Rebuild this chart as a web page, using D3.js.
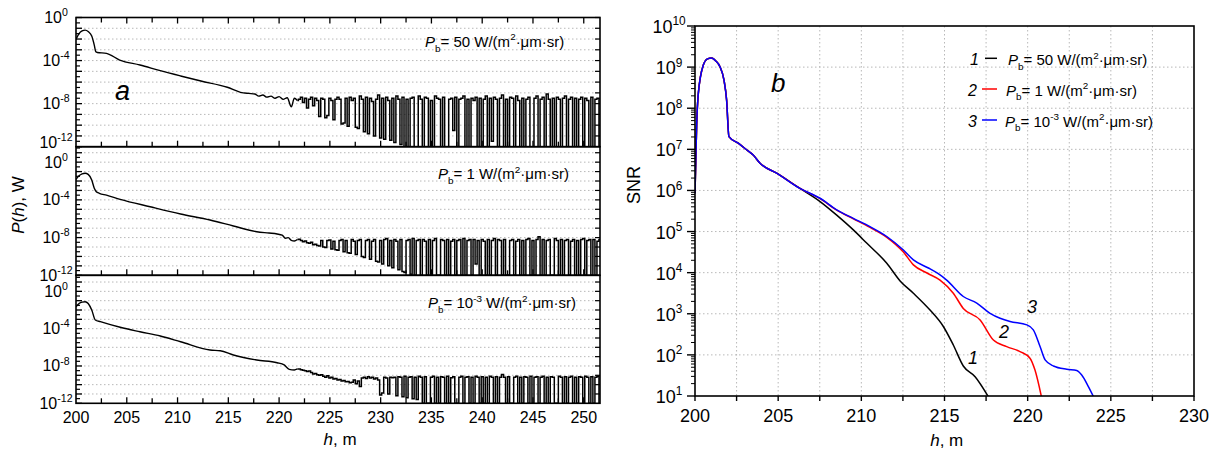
<!DOCTYPE html>
<html><head><meta charset="utf-8">
<script src="https://cdn.jsdelivr.net/npm/d3@7"></script>
<style>
body{margin:0;background:#fff}
svg{display:block}
text{font-family:Arial,"Liberation Sans",sans-serif;fill:#000}
</style>
</head><body>
<svg id="c" width="1219" height="453"></svg>
<script>
// ---------------- DATA ----------------
// Panel a: P(h) curves, log10(P) values
const p1SmoothH   = [200.0,200.3,200.6,200.9,201.2,201.55,201.8,201.95,202.1,203.0,204.3,206.3,208.3,210.3,212.3,214.9,216.2,217.0,217.6,218.0,218.4,218.8,219.2,219.6,220.0,220.4,220.8,221.2,221.5,221.8];
const p1SmoothLog = [-2.03,-1.5,-1.25,-1.17,-1.3,-1.72,-2.56,-3.18,-3.25,-3.33,-3.95,-4.41,-4.94,-5.43,-5.9,-6.48,-6.95,-7.05,-7.1,-7.3,-7.2,-7.4,-7.3,-7.5,-7.35,-7.6,-7.45,-8.3,-7.5,-7.7];
const p2SmoothH   = [200.0,200.3,200.6,200.9,201.2,201.55,201.8,202.0,202.3,203.0,204.35,207.3,210.3,213.2,215.5,217.8,219.0,219.8,220.3,220.65,220.9,221.2,221.5,221.8];
const p2SmoothLog = [-1.82,-1.45,-1.25,-1.18,-1.3,-1.9,-2.77,-3.13,-3.3,-3.5,-3.94,-4.73,-5.5,-6.14,-6.77,-7.38,-7.52,-7.62,-7.75,-8.08,-8.0,-8.3,-8.36,-8.2];
const p3SmoothH   = [200.0,200.3,200.6,200.9,201.2,201.55,201.9,202.4,204.35,206.3,208.3,210.3,213.2,214.2,215.5,217.8,219.8,220.5,221.0,221.5,221.8];
const p3SmoothLog = [-1.65,-1.3,-1.15,-1.11,-1.3,-2.0,-3.07,-3.25,-3.85,-4.33,-4.79,-5.4,-6.29,-6.36,-6.82,-7.36,-7.65,-7.89,-8.36,-8.43,-8.32];
// noisy tail: samples every 0.2 m starting at h = 222.0
const noiseStartH = 222.0, noiseStepH = 0.2;
const p1NoiseLog = [
-7.6,-7.4,-7.9,-7.5,-8.4,-7.6,-7.4,-8.2,-7.5,-7.7,
-9.2,-7.5,-7.6,-9.3,-9.1,-7.5,-7.7,-9.5,-7.6,-7.4,
-7.6,-9.9,-9.8,-7.5,-10.1,-7.4,-7.7,-7.5,-10.2,-10.3,
-7.3,-7.6,-10.6,-7.4,-10.8,-7.5,-7.8,-11.0,-7.6,-7.2,
-11.2,-7.5,-11.3,-7.4,-7.7,-11.4,-7.5,-11.6,-7.3,-7.6,
-11.8,-7.4,-12,-7.6,-12,-7.5,-7.4,-12,-12,-7.3,
-7.6,-12,-7.4,-7.5,-12,-7.7,-12,-7.3,-7.5,-7.6,
-12,-7.4,-12,-12,-7.6,-7.5,-10.5,-7.4,-12,-7.6,
-7.5,-7.3,-12,-7.6,-12,-7.5,-7.7,-7.4,-12,-7.5,
-12,-7.6,-7.3,-12,-7.5,-11.5,-7.4,-7.6,-12,-7.5,
-7.2,-12,-7.6,-12,-7.4,-7.5,-12,-7.3,-7.7,-12,
-7.5,-12,-7.6,-7.4,-12,-12,-7.5,-7.3,-12,-7.6,
-7.4,-12,-7.1,-7.6,-12,-7.5,-12,-7.4,-7.6,-12,
-7.5,-7.3,-12,-7.6,-7.4,-12,-7.5,-12,-7.6,-7.4,
-12,-7.5,-7.7,-12,-7.4,-12,-7.6,-7.5,-12,-7.4,
-7.6];
const p2NoiseLog = [
-8.18,-8.3,-8.45,-8.35,-8.55,-8.6,-8.5,-8.75,-8.7,-8.85,
-8.9,-8.3,-9.0,-9.05,-8.3,-8.25,-9.2,-8.4,-9.3,-9.35,
-8.3,-8.2,-9.5,-8.3,-9.6,-9.65,-8.2,-8.4,-9.8,-8.3,
-8.2,-10.0,-10.1,-8.3,-8.2,-10.3,-8.4,-8.2,-10.5,-10.6,
-8.3,-10.8,-8.2,-8.1,-11.0,-8.3,-11.2,-8.2,-8.4,-11.4,
-8.2,-11.6,-11.7,-8.3,-8.2,-11.9,-8.1,-12,-8.3,-8.2,
-12,-8.2,-8.4,-12,-8.2,-12,-8.3,-8.1,-12,-12,
-8.2,-8.3,-12,-8.2,-12,-8.4,-8.2,-12,-8.3,-8.2,
-12,-8.1,-12,-8.3,-8.2,-12,-8.2,-10.8,-8.3,-12,
-8.2,-8.4,-12,-8.2,-12,-8.3,-8.1,-12,-8.2,-8.3,
-12,-8.2,-12,-12,-8.3,-8.2,-12,-8.4,-8.2,-12,
-8.3,-12,-8.2,-8.1,-12,-8.3,-12,-8.2,-7.9,-12,
-8.2,-12,-8.3,-8.2,-12,-12,-8.1,-8.3,-12,-8.2,
-12,-8.3,-8.2,-12,-8.4,-8.2,-12,-8.3,-12,-8.2,
-8.1,-12,-8.3,-8.2,-12,-8.2,-12,-8.4,-8.2,-12,
-8.2];
const p3NoiseLog = [
-8.32,-8.4,-8.45,-8.5,-8.6,-8.55,-8.7,-8.85,-8.8,-8.95,
-9.0,-8.95,-9.1,-9.2,-9.05,-9.3,-9.2,-9.4,-9.35,-9.5,
-9.45,-9.6,-9.55,-9.7,-9.65,-9.8,-9.75,-9.5,-9.9,-9.6,
-10.2,-9.3,-9.2,-9.35,-9.15,-9.3,-9.2,-9.4,-9.3,-9.5,
-11.1,-10.9,-9.2,-9.3,-11.0,-9.2,-9.25,-9.2,-11.2,-9.15,
-9.2,-11.3,-9.1,-11.4,-9.2,-9.15,-11.5,-9.2,-11.6,-9.1,
-9.2,-12,-9.15,-12,-12,-9.2,-9.1,-12,-9.2,-12,
-9.15,-9.2,-12,-9.1,-12,-9.25,-9.15,-12,-12,-9.2,
-9.1,-12,-9.2,-9.15,-12,-9.2,-12,-9.1,-9.2,-12,
-9.15,-12,-9.2,-12,-9.1,-9.2,-12,-9.15,-12,-9.2,
-8.9,-9.2,-12,-9.15,-12,-12,-9.2,-9.1,-12,-9.2,
-12,-9.15,-9.2,-12,-9.1,-12,-9.2,-9.15,-12,-9.2,
-9.1,-12,-9.2,-12,-9.15,-9.2,-12,-12,-9.1,-9.2,
-12,-9.15,-12,-9.2,-9.1,-12,-9.2,-12,-9.15,-9.2,
-12,-9.1,-9.2,-12,-9.15,-12,-9.2,-9.1,-12,-9.2,
-9.15];

// Panel b: SNR curves, log10(SNR) values
const snrCommonH   = [200.0,200.1,200.2,200.5,200.75,201.0,201.25,201.5,201.74,201.9,202.04,202.6,203.1,203.5,203.91,204.91,206.31];
const snrCommonLog = [5.93,7.6,8.36,9.05,9.2,9.22,9.15,9.01,8.69,8.2,7.31,7.15,6.99,6.86,6.66,6.42,6.05];
const snr1H   = [207.52,208.52,209.52,210.32,211.53,212.33,213.13,214.13,214.93,215.53,216.13,216.84,217.64];
const snr1Log = [5.73,5.40,5.04,4.72,4.23,3.80,3.50,3.09,2.69,2.24,1.73,1.47,0.98];
const snr2H   = [207.52,208.52,209.52,210.52,211.53,212.53,213.13,214.0,214.73,215.53,216.13,217.14,217.94,218.74,219.54,220.14,220.44,220.85];
const snr2Log = [5.80,5.52,5.31,5.10,4.86,4.50,4.19,3.98,3.82,3.50,3.13,2.85,2.36,2.20,2.08,1.92,1.63,0.94];
const snr3H   = [207.52,208.52,209.52,210.52,211.53,212.53,213.13,214.0,214.6,215.13,216.13,216.94,217.74,218.34,218.94,219.95,220.34,220.75,221.05,221.55,222.35,222.95,223.25,223.65,224.01];
const snr3Log = [5.81,5.53,5.32,5.12,4.88,4.55,4.31,4.12,3.98,3.82,3.42,3.26,3.01,2.89,2.81,2.73,2.61,2.20,1.88,1.73,1.65,1.62,1.51,1.23,0.94];

const leftTickH  = [200,205,210,215,220,225,230,235,240,245,250];
const rightTickH = [200,205,210,215,220,225,230];
const leftTickExp  = [0,-4,-8,-12];
const rightTickExp = [1,2,3,4,5,6,7,8,9,10];
const legendNames = ["50", "1", "10-3"];

// ---------------- DRAW ----------------
const svg = d3.select('#c');
const defs = svg.append('defs');

function rich(g, x, y, size, parts, anchor) {
  const t = g.append('text').attr('x', x).attr('y', y).attr('font-size', size)
    .attr('text-anchor', anchor || 'start');
  let shift = 0;
  parts.forEach(p => {
    const s = t.append('tspan').text(p[0]);
    let want = 0;
    if (p[1] === 'i') s.attr('font-style', 'italic');
    if (p[1] === 'sub') { s.attr('font-size', size * 0.66); want = size * 0.32; }
    if (p[1] === 'sup') { s.attr('font-size', size * 0.66); want = -size * 0.42; }
    if (want - shift !== 0) s.attr('dy', want - shift);
    shift = want;
  });
  return t;
}
function pbParts(v) {
  const head = [['P', 'i'], ['b', 'sub']];
  const tail = [['2', 'sup'], ['\u00B7\u03BCm\u00B7sr)', '']];
  if (v === '10-3') return head.concat([['= 10', ''], ['-3', 'sup'], [' W/(m', '']], tail);
  return head.concat([['= ' + v + ' W/(m', '']], tail);
}

// ---- Panel a ----
const lx = d3.scaleLinear().domain([200, 251.6]).range([76, 600]);
const panels = [
  { top: 17.5, bottom: 146.7, maxExp: 0,    sh: p1SmoothH, sl: p1SmoothLog, nl: p1NoiseLog, lab: '50',   tx: 425, ty: 46.7 },
  { top: 146.7, bottom: 275.3, maxExp: 1.64, sh: p2SmoothH, sl: p2SmoothLog, nl: p2NoiseLog, lab: '1',    tx: 438, ty: 179 },
  { top: 275.3, bottom: 403.3, maxExp: 1.72, sh: p3SmoothH, sl: p3SmoothLog, nl: p3NoiseLog, lab: '10-3', tx: 428, ty: 308 }
];
const gridStyle = g => g.attr('stroke', '#b8b8b8').attr('stroke-width', 1).attr('stroke-dasharray', '1.5,2.5');

panels.forEach((p, k) => {
  const y = d3.scaleLog().domain([1e-12, Math.pow(10, p.maxExp)]).range([p.bottom, p.top]);
  const g = svg.append('g');
  const decs = d3.range(-11, Math.floor(p.maxExp) + 1).filter(e => y(Math.pow(10, e)) > p.top + 1);
  g.selectAll('.gl').data(decs).join('line')
    .attr('x1', lx.range()[0]).attr('x2', lx.range()[1])
    .attr('y1', e => y(Math.pow(10, e))).attr('y2', e => y(Math.pow(10, e)))
    .call(gridStyle);
  const smooth = p.sh.map((h, i) => [h, Math.pow(10, p.sl[i])]);
  const noise = [smooth[smooth.length - 1]].concat(p.nl.map((v, i) => [noiseStartH + i * noiseStepH, Math.pow(10, v)]));
  const cid = 'clipA' + k;
  defs.append('clipPath').attr('id', cid).append('rect')
    .attr('x', lx.range()[0]).attr('y', p.top).attr('width', lx.range()[1] - lx.range()[0]).attr('height', p.bottom - p.top);
  g.append('path').attr('clip-path', `url(#${cid})`)
    .attr('d', d3.line().x(d => lx(d[0])).y(d => y(d[1])).curve(d3.curveMonotoneX)(smooth))
    .attr('fill', 'none').attr('stroke', '#000').attr('stroke-width', 1.4).attr('stroke-linejoin', 'round');
  g.append('path').attr('clip-path', `url(#${cid})`)
    .attr('d', d3.line().x(d => lx(d[0])).y(d => y(d[1])).curve(d3.curveStep)(noise))
    .attr('fill', 'none').attr('stroke', '#000').attr('stroke-width', 1.5).attr('stroke-linejoin', 'miter');
  const allDec = d3.range(-12, Math.floor(p.maxExp) + 1);
  const halfDec = d3.range(-11.5, p.maxExp, 1);
  g.selectAll('.tm').data(allDec).join('line')
    .attr('x1', 76).attr('x2', 82).attr('y1', e => y(Math.pow(10, e))).attr('y2', e => y(Math.pow(10, e)))
    .attr('stroke', '#000').attr('stroke-width', 1.3);
  g.selectAll('.tn').data(halfDec).join('line')
    .attr('x1', 76).attr('x2', 80).attr('y1', e => y(Math.pow(10, e))).attr('y2', e => y(Math.pow(10, e)))
    .attr('stroke', '#000').attr('stroke-width', 1.2);
  g.selectAll('.tr').data(allDec.filter(e => e > -12)).join('line')
    .attr('x1', 600).attr('x2', 595).attr('y1', e => y(Math.pow(10, e))).attr('y2', e => y(Math.pow(10, e)))
    .attr('stroke', '#000').attr('stroke-width', 1.2);
  const xt = d3.range(202.5, 251.6, 2.5);
  g.selectAll('.tb').data(xt).join('line')
    .attr('x1', d => lx(d)).attr('x2', d => lx(d)).attr('y1', p.bottom).attr('y2', d => p.bottom - (d % 5 === 0 ? 6 : 5))
    .attr('stroke', '#000').attr('stroke-width', 1.3);
  if (k === 0) {
    g.selectAll('.tt').data(xt).join('line')
      .attr('x1', d => lx(d)).attr('x2', d => lx(d)).attr('y1', p.top).attr('y2', d => p.top + (d % 5 === 0 ? 6 : 5))
      .attr('stroke', '#000').attr('stroke-width', 1.3);
  }
  g.append('rect').attr('x', 76).attr('y', p.top).attr('width', 524).attr('height', p.bottom - p.top)
    .attr('fill', 'none').attr('stroke', '#000').attr('stroke-width', 1.6);
  leftTickExp.forEach(e => {
    const off = (k === 0 && e === -12) ? 1 : 5.5;
    rich(g, 56, y(Math.pow(10, e)) + off, 16, [['10', ''], [String(e), 'sup']], 'middle');
  });
  rich(g, p.tx, p.ty, 15, pbParts(p.lab));
});
leftTickH.forEach(h => {
  svg.append('text').attr('x', lx(h)).attr('y', 423).attr('font-size', 16).attr('text-anchor', 'middle').text(h);
});
rich(svg, lx(226.0), 445, 17, [['h', 'i'], [', m', '']], 'middle');
{
  const t = rich(svg, 0, 0, 17, [['P', 'i'], ['(', ''], ['h', 'i'], ['), W', '']], 'middle');
  t.attr('transform', 'translate(24,205) rotate(-90)');
}
svg.append('text').attr('x', 115).attr('y', 100).attr('font-size', 27).attr('font-style', 'italic').text('a');

// ---- Panel b ----
const rx = d3.scaleLinear().domain([200, 230]).range([695, 1194]);
const ry = d3.scaleLog().domain([10, 1e10]).range([396, 26]);
const gb = svg.append('g');
gb.selectAll('.vg').data(d3.range(202.5, 230, 2.5)).join('line')
  .attr('x1', d => rx(d)).attr('x2', d => rx(d)).attr('y1', 26).attr('y2', 396).call(gridStyle);
gb.selectAll('.hg').data(d3.range(2, 10)).join('line')
  .attr('x1', 695).attr('x2', 1194).attr('y1', e => ry(Math.pow(10, e))).attr('y2', e => ry(Math.pow(10, e))).call(gridStyle);

defs.append('clipPath').attr('id', 'clipB').append('rect').attr('x', 695).attr('y', 26).attr('width', 499).attr('height', 370);
const snrLine = d3.line().x(d => rx(d[0])).y(d => ry(d[1])).curve(d3.curveMonotoneX);
const common = snrCommonH.map((h, i) => [h, Math.pow(10, snrCommonLog[i])]);
const series = [
  { h: snr1H, l: snr1Log, c: '#000000' },
  { h: snr2H, l: snr2Log, c: '#ff0000' },
  { h: snr3H, l: snr3Log, c: '#0000ff' }
];
series.forEach(s => {
  const pts = common.concat(s.h.map((h, i) => [h, Math.pow(10, s.l[i])]));
  gb.append('path').attr('clip-path', 'url(#clipB)').attr('d', snrLine(pts))
    .attr('fill', 'none').attr('stroke', s.c).attr('stroke-width', 1.5).attr('stroke-linejoin', 'round');
});
gb.append('rect').attr('x', 695).attr('y', 26).attr('width', 499).attr('height', 370)
  .attr('fill', 'none').attr('stroke', '#000').attr('stroke-width', 1.6);
gb.selectAll('.bt').data(d3.range(200, 230.1, 2.5)).join('line')
  .attr('x1', d => rx(d)).attr('x2', d => rx(d)).attr('y1', 396).attr('y2', 401)
  .attr('stroke', '#000').attr('stroke-width', 1.4);
const minorVals = [];
d3.range(1, 10).forEach(e => d3.range(2, 10).forEach(m => minorVals.push(m * Math.pow(10, e))));
gb.selectAll('.lm').data(minorVals).join('line')
  .attr('x1', 695).attr('x2', 691).attr('y1', d => ry(d)).attr('y2', d => ry(d))
  .attr('stroke', '#000').attr('stroke-width', 1);
gb.selectAll('.lM').data(rightTickExp).join('line')
  .attr('x1', 695).attr('x2', 687).attr('y1', e => ry(Math.pow(10, e))).attr('y2', e => ry(Math.pow(10, e)))
  .attr('stroke', '#000').attr('stroke-width', 1.4);
rightTickExp.forEach(e => {
  rich(gb, 669, ry(Math.pow(10, e)) + 7, 18, [['10', ''], [String(e), 'sup']], 'middle');
});
rightTickH.forEach(h => {
  gb.append('text').attr('x', rx(h)).attr('y', 422).attr('font-size', 18).attr('text-anchor', 'middle').text(h);
});
rich(gb, 946.7, 446, 17, [['h', 'i'], [', m', '']], 'middle');
gb.append('text').attr('transform', 'translate(640,185) rotate(-90)').attr('font-size', 18)
  .attr('text-anchor', 'middle').text('SNR');
gb.append('text').attr('x', 771).attr('y', 92).attr('font-size', 26).attr('font-style', 'italic').text('b');

const legY = [58.3, 89, 120];
const legNumX = [970, 968, 968];
const legLineX = [985, 982, 982];
const legTextX = [1008, 1006, 1005];
series.forEach((s, i) => {
  gb.append('text').attr('x', legNumX[i]).attr('y', legY[i] + 6.5).attr('font-size', 16).attr('font-style', 'italic').text(i + 1);
  gb.append('line').attr('x1', legLineX[i]).attr('x2', 997).attr('y1', legY[i]).attr('y2', legY[i])
    .attr('stroke', s.c).attr('stroke-width', 1.5);
  rich(gb, legTextX[i], legY[i] + 6.5, 15, pbParts(legendNames[i]));
});
[[1032, 313, '3'], [1004, 338, '2'], [973, 364, '1']].forEach(d => {
  gb.append('text').attr('x', d[0]).attr('y', d[1]).attr('font-size', 18).attr('font-style', 'italic')
    .attr('text-anchor', 'middle').text(d[2]);
});
</script>
</body></html>
